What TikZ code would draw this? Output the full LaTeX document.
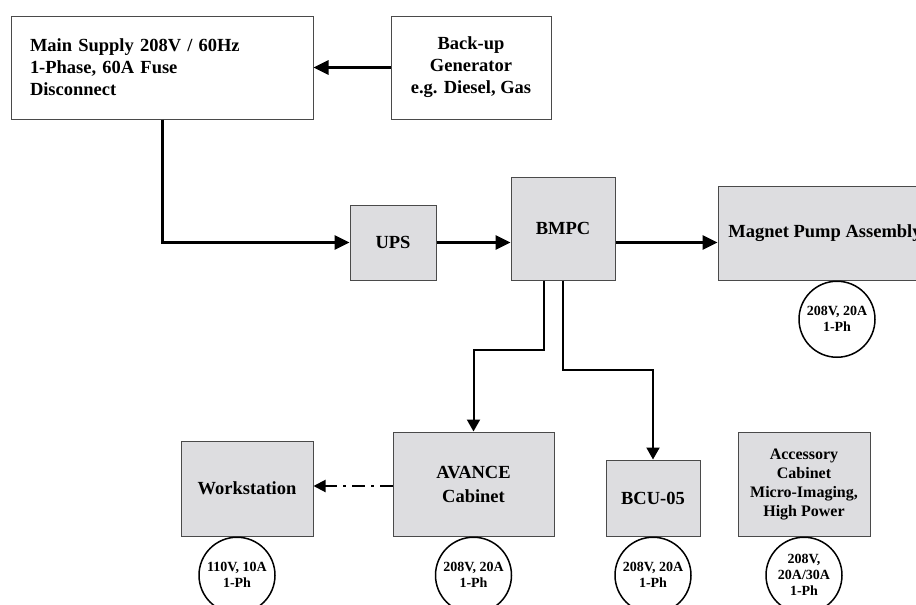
\documentclass[tikz,border=0pt]{standalone}
\usepackage{fontspec}
\setmainfont{Liberation Serif}
\usetikzlibrary{arrows.meta}
\definecolor{boxfill}{HTML}{DDDDE0}
\definecolor{boxline}{HTML}{4A4A4A}
\tikzset{
  box/.style={draw=boxline, line width=1pt, fill=boxfill, inner sep=0pt, align=center,
    font=\bfseries\fontsize{18.5}{22}\selectfont},
  wbox/.style={box, fill=white},
  rating/.style={draw=black, line width=1.5pt, circle, fill=white, minimum size=76pt, inner sep=0pt,
    align=center, font=\bfseries\fontsize{14}{16}\selectfont, anchor=north},
  bigarrow/.style={line width=3pt, -{Triangle[length=15pt, width=14pt]}},
  midarrow/.style={line width=2pt, -{Triangle[length=12pt, width=13pt]}},
  dasharrow/.style={line width=2pt, dash pattern=on 13pt off 6pt on 3pt off 6pt, -{Triangle[length=12pt, width=12pt]}}
}
\begin{document}
\begin{tikzpicture}[x=1pt, y=-1pt]
\useasboundingbox (0,0) rectangle (916,605);
\fill[white] (0,0) rectangle (916,605);

\node[wbox, minimum width=302, minimum height=103, text width=264, align=left] (main) at (162,67.5)
  {Main Supply 208V / 60Hz\\1-Phase, 60A Fuse\\Disconnect};
\node[wbox, minimum width=160, minimum height=103] (backup) at (471,67.5)
  {Back-up\\Generator\\e.g. Diesel, Gas};
\node[box, minimum width=86, minimum height=75] (ups) at (393,242.5) {UPS};
\node[box, minimum width=104, minimum height=103] (bmpc) at (563,228.5) {BMPC};
\node[box, minimum width=214, minimum height=94] (magnet) at (825,233) {Magnet Pump Assembly};
\node[box, minimum width=132, minimum height=95] (ws) at (247,488.5) {Workstation};
\node[box, minimum width=161, minimum height=104, font=\bfseries\fontsize{18.5}{24}\selectfont] (avance) at (473.5,484) {AVANCE\\Cabinet};
\node[box, minimum width=94, minimum height=76] (bcu) at (653,498) {BCU-05};
\node[box, minimum width=132, minimum height=104, font=\bfseries\fontsize{16}{19}\selectfont] (acc) at (804,484)
  {Accessory\\Cabinet\\Micro-Imaging,\\High Power};

\node[rating] (cmag) at ([xshift=12pt]magnet.south) {208V, 20A\\1-Ph};
\node[rating] (cws) at ([xshift=-10pt]ws.south) {110V, 10A\\1-Ph};
\node[rating] (cav) at (avance.south) {208V, 20A\\1-Ph};
\node[rating] (cbcu) at (bcu.south) {208V, 20A\\1-Ph};
\node[rating] (cacc) at (acc.south) {208V,\\20A/30A\\1-Ph};

\draw[bigarrow] (backup.west) -- (main.east);
\draw[bigarrow] (main.south) |- (ups.west);
\draw[bigarrow] (ups.east) -- (ups.east -| bmpc.west);
\draw[bigarrow] (bmpc.east |- ups.east) -- (magnet.west |- ups.east);
\draw[midarrow] ([xshift=-19pt]bmpc.south) -- ++(0,69) -| (avance.north);
\draw[midarrow] (bmpc.south) -- ++(0,89) -| (bcu.north);
\draw[dasharrow] ([yshift=-2pt]avance.west) -- ([yshift=-2pt]avance.west -| ws.east);
\end{tikzpicture}
\end{document}
